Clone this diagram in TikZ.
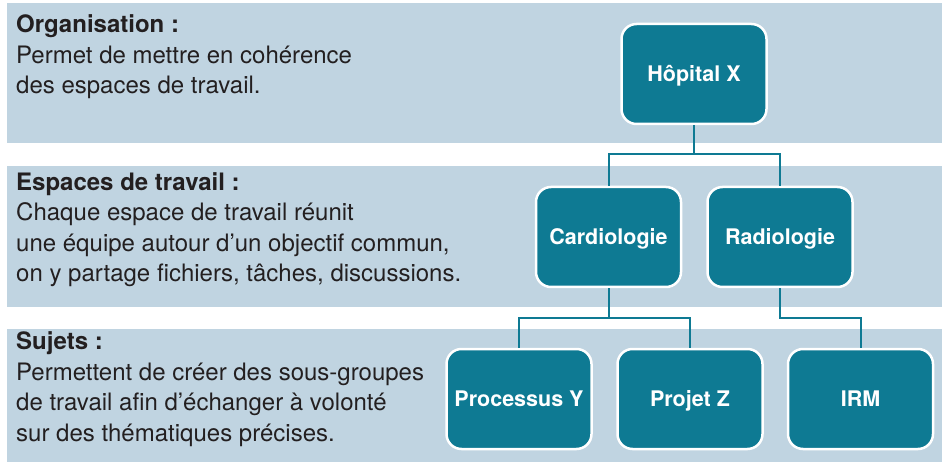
\documentclass[tikz,border=0pt]{standalone}
\usepackage{fontspec}
\setmainfont{TeX Gyre Heros}
\usepackage{xcolor}
\usepackage{tikz}
\usetikzlibrary{positioning, calc}
\definecolor{bandcolor}{RGB}{192,212,225}
\definecolor{unitcolor}{RGB}{14,122,147}
\definecolor{textcolor}{RGB}{35,31,32}

\begin{document}
\begin{tikzpicture}[
    x=1pt, y=-1pt,
    band/.style={fill=bandcolor},
    unit/.style={draw=white, line width=2.5pt, fill=unitcolor, rounded corners=15pt, minimum width=145pt, minimum height=100pt, text height=15.5pt, text depth=0pt, align=center, text=white, font=\fontsize{21.5}{24}\selectfont\bfseries},
    desc/.style={anchor=base west, inner sep=0pt, align=left, text=textcolor, font=\fontsize{24}{30.5}\selectfont},
    link/.style={draw=unitcolor, line width=2pt}
]
    \useasboundingbox (0,0) rectangle (942,462);
    % bands
    \fill[band] (7,3) rectangle (942,143);
    \fill[band] (7,166) rectangle (942,307);
    \fill[band] (7,329) rectangle (942,462);

    % base anchor sits on the last line
    \node[desc] (orgtext) at (16,94) {\textbf{Organisation :}\\Permet de mettre en cohérence\\des espaces de travail.};
    \node[desc] (wstext) at (16,282) {\textbf{Espaces de travail :}\\Chaque espace de travail réunit\\une équipe autour d’un objectif commun,\\on y partage fichiers, tâches, discussions.};
    \node[desc] (subtext) at (16,441) {\textbf{Sujets :}\\Permettent de créer des sous-groupes\\de travail afin d’échanger à volonté\\sur des thématiques précises.};

    % tree
    \node[unit] (hospital) at (694,74) {Hôpital X};
    \node[unit] (cardio) at (608.5,237) {Cardiologie};
    \node[unit] (radio) at (780,237) {Radiologie};
    \node[unit] (process) at (519,399) {Processus Y};
    \node[unit] (project) at (690,399) {Projet Z};
    \node[unit] (mri) at (860.5,399) {IRM};

    \draw[link] (hospital.south) -- ++(0,29) -| (cardio.north);
    \draw[link] (hospital.south) -- ++(0,29) -| (radio.north);
    \draw[link] (cardio.south) -- ++(0,30) -| (process.north);
    \draw[link] (cardio.south) -- ++(0,30) -| (project.north);
    \draw[link] (radio.south) -- ++(0,30) -| (mri.north);
\end{tikzpicture}
\end{document}
